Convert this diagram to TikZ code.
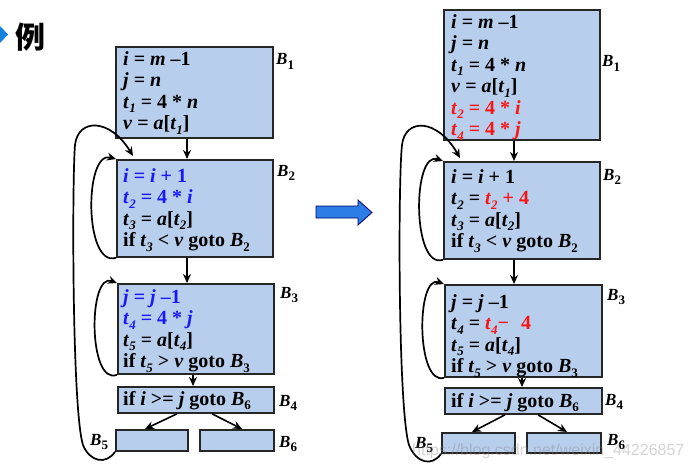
\documentclass[tikz,border=0pt]{standalone}
\usepackage{fontspec}
\setmainfont{Liberation Serif}
\newfontfamily\cjkfont{Noto Sans CJK SC}
\newfontfamily\wmfont{Liberation Sans}
\usetikzlibrary{arrows.meta}
\definecolor{boxblue}{RGB}{183,206,236}
\definecolor{cblue}{RGB}{25,25,250}
\definecolor{cred}{RGB}{250,20,20}
\definecolor{arrblue}{RGB}{45,125,230}
\definecolor{markblue}{RGB}{20,130,220}
\newcommand\lsub[1]{\raisebox{-4.5pt}{\fontsize{13}{13}\selectfont #1}}
\newcommand\V[1]{\textit{#1}}
\newcommand\tv[1]{\textit{t}\lsub{\textit{#1}}}
\newcommand\Bv[1]{\textit{B}\lsub{#1}}
\begin{document}
\begin{tikzpicture}[x=1pt,y=-1pt,
  blk/.style={draw=black!85, line width=1.8pt, fill=boxblue, anchor=north west, inner sep=0pt},
  code/.style={anchor=north west, inner sep=0pt, align=left, font=\fontsize{20}{21.5}\selectfont\bfseries},
  lab/.style={anchor=base west, inner sep=0pt, font=\fontsize{17}{17}\selectfont\bfseries},
  arr/.style={line width=1.6pt, -{Stealth[length=9pt,width=8pt]}},
  loop/.style={line width=1.7pt, -{Stealth[length=9pt,width=8pt]}}
]
\useasboundingbox (0,0) rectangle (692,468);

% header
\fill[markblue] (0,26) -- (8,34.5) -- (0,43) -- cycle;
\node[inner sep=0pt, font=\cjkfont\bfseries\fontsize{30}{30}\selectfont] (title) at (31,37) {例};

% middle arrow
\filldraw[fill=arrblue, draw=black!60!blue, line width=0.8pt]
  (316,206) -- (358,206) -- (358,200) -- (372,212.5) -- (358,225) -- (358,218) -- (316,218) -- cycle;

% ---------- left boxes ----------
\node[blk, minimum width=157pt, minimum height=91pt] (L1) at (115,46) {};
\node[blk, minimum width=156pt, minimum height=97pt] (L2) at (116,159) {};
\node[blk, minimum width=156pt, minimum height=90pt] (L3) at (117,283) {};
\node[blk, minimum width=156pt, minimum height=26pt] (L4) at (117,386) {};
\node[blk, minimum width=72pt, minimum height=21pt] (L5) at (115,429) {};
\node[blk, minimum width=74pt, minimum height=21pt] (L6) at (199,429) {};

\node[code] (L1t) at (123,51) {\V{i} = \V{m} –1\\ \V{j} = \V{n}\\ \tv{1} = 4 * \V{n}\\ \V{v} = \V{a}[\tv{1}]};
\node[code] (L2t) at (123,168) {{\color{cblue}\V{i} = \V{i} + 1}\\ {\color{cblue}\tv{2} = 4 * \V{i}}\\ \tv{3} = \V{a}[\tv{2}]\\ if \tv{3} < \V{v} goto \Bv{2}};
\node[code] (L3t) at (123,289) {{\color{cblue}\V{j} = \V{j} –1}\\ {\color{cblue}\tv{4} = 4 * \V{j}}\\ \tv{5} = \V{a}[\tv{4}]\\ if \tv{5} > \V{v} goto \Bv{3}};
\node[code] (L4t) at (123,391) {if \V{i} >= \V{j} goto \Bv{6}};

\node[lab] (LB1) at (276,65) {\Bv{1}};
\node[lab] (LB2) at (277,176) {\Bv{2}};
\node[lab] (LB3) at (280,298) {\Bv{3}};
\node[lab] (LB4) at (279,406) {\Bv{4}};
\node[lab] (LB5) at (90,445) {\Bv{5}};
\node[lab] (LB6) at (279,447) {\Bv{6}};

\coordinate (xa) at (187,0);
\coordinate (xb) at (193,0);
\coordinate (xc) at (177,0);
\coordinate (xd) at (145,0);
\coordinate (xe) at (212,0);
\coordinate (xf) at (242,0);
\draw[arr] (L1.south -| xa) -- (L2.north -| xa);
\draw[arr] (L2.south -| xa) -- (L3.north -| xa);
\draw[arr] (L3.south -| xb) -- (L4.north -| xb);
\draw[arr] (L4.south -| xc) -- (L5.north -| xd);
\draw[arr] (L4.south -| xe) -- (L6.north -| xf);

\coordinate (bigL) at (133,156);
\draw[loop] (L2.south west) .. controls (84,268) and (84,150) .. (L2.north west);
\draw[loop] (L3.south west) .. controls (88,386) and (88,272) .. (L3.north west);
\draw[loop] (L5.south west) .. controls (106,465) and (90,462) .. (83,445)
  .. controls (72,410) and (72,180) .. (75,145)
  .. controls (78,118) and (110,118) .. (bigL);

% ---------- right boxes ----------
\node[blk, minimum width=156pt, minimum height=130pt] (R1) at (443,9) {};
\node[blk, minimum width=156pt, minimum height=97pt] (R2) at (443,161) {};
\node[blk, minimum width=157pt, minimum height=92pt] (R3) at (444,284) {};
\node[blk, minimum width=157pt, minimum height=26pt] (R4) at (444,387) {};
\node[blk, minimum width=73pt, minimum height=20pt] (R5) at (441,432) {};
\node[blk, minimum width=74pt, minimum height=20pt] (R6) at (526,432) {};

\node[code] (R1t) at (451,14) {\V{i} = \V{m} –1\\ \V{j} = \V{n}\\ \tv{1} = 4 * \V{n}\\ \V{v} = \V{a}[\tv{1}]\\ {\color{cred}\tv{2} = 4 * \V{i}}\\ {\color{cred}\tv{4} = 4 * \V{j}}};
\node[code] (R2t) at (451,169) {\V{i} = \V{i} + 1\\ \tv{2} = {\color{cred}\tv{2} + 4}\\ \tv{3} = \V{a}[\tv{2}]\\ if \tv{3} < \V{v} goto \Bv{2}};
\node[code] (R3t) at (451,294) {\V{j} = \V{j} –1\\ \tv{4} = {\color{cred}\tv{4}−\hspace{0.6em}4}\\ \tv{5} = \V{a}[\tv{4}]\\ if \tv{5} > \V{v} goto \Bv{3}};
\node[code] (R4t) at (451,393) {if \V{i} >= \V{j} goto \Bv{6}};

\node[lab] (RB1) at (602,67) {\Bv{1}};
\node[lab] (RB2) at (603,180) {\Bv{2}};
\node[lab] (RB3) at (607,300) {\Bv{3}};
\node[lab] (RB4) at (605,405) {\Bv{4}};
\node[lab] (RB5) at (415,448) {\Bv{5}};
\node[lab] (RB6) at (607,445) {\Bv{6}};

\coordinate (ya) at (514,0);
\coordinate (yb) at (522,0);
\coordinate (yc) at (505,0);
\coordinate (yd) at (472,0);
\coordinate (ye) at (538,0);
\coordinate (yf) at (567,0);
\draw[arr] (R1.south -| ya) -- (R2.north -| ya);
\draw[arr] (R2.south -| ya) -- (R3.north -| ya);
\draw[arr] (R3.south -| yb) -- (R4.north -| yb);
\draw[arr] (R4.south -| yc) -- (R5.north -| yd);
\draw[arr] (R4.south -| ye) -- (R6.north -| yf);

\coordinate (bigR) at (460,158);
\draw[loop] (R2.south west) .. controls (412,270) and (412,150) .. (R2.north west);
\draw[loop] (R3.south west) .. controls (416,386) and (416,274) .. (R3.north west);
\draw[loop] (R5.south west) .. controls (432,467) and (416,463) .. (409,445)
  .. controls (398,410) and (398,180) .. (402,145)
  .. controls (405,118) and (437,118) .. (bigR);

% watermark
\node[anchor=base west, inner sep=0pt, font=\wmfont\fontsize{16}{16}\selectfont, text=gray, opacity=0.35] (wm) at (412,455) {https://blog.csdn.net/weixin\_44226857};
\end{tikzpicture}
\end{document}
